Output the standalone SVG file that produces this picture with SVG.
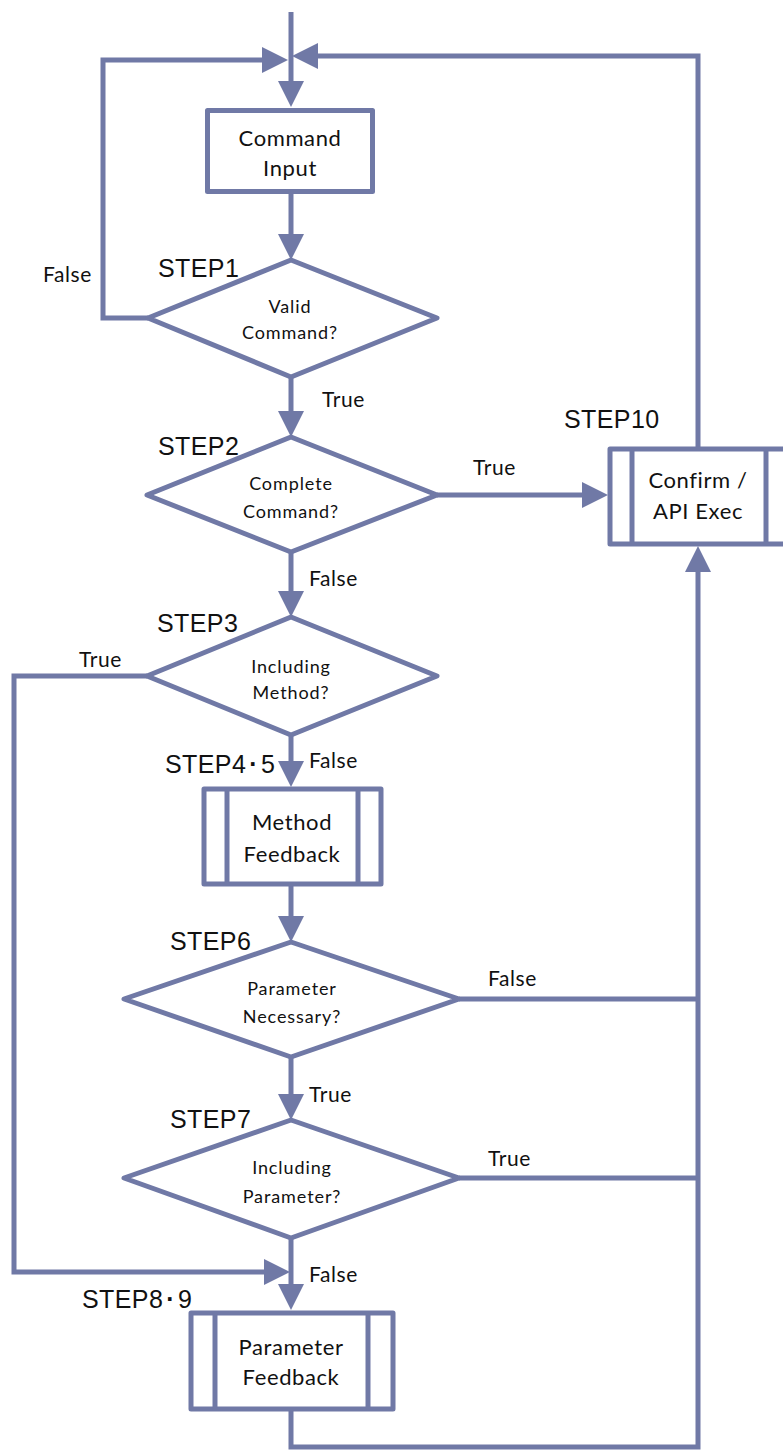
<svg xmlns="http://www.w3.org/2000/svg" width="783" height="1450" viewBox="0 0 783 1450">
  <style>
    .ln { fill: none; stroke: #7079a6; stroke-width: 5; stroke-linejoin: miter; }
    .nd { fill: #ffffff; stroke: #7079a6; stroke-width: 5; stroke-linejoin: round; }
    .bar { stroke: #7079a6; stroke-width: 5; }
    .box { font-family: Lato, "Open Sans", sans-serif; font-size: 22px; fill: #111; text-anchor: middle; letter-spacing: 0.6px; }
    .dia { font-family: Lato, "Open Sans", sans-serif; font-size: 18px; fill: #111; text-anchor: middle; letter-spacing: 0.9px; }
    .lab { font-family: Lato, "Open Sans", sans-serif; font-size: 21px; fill: #111; letter-spacing: 0.6px; }
    .step { font-family: "Liberation Sans", Arial, sans-serif; font-size: 25px; fill: #111; letter-spacing: 0.4px; }
    .dot { font-weight: bold; }
  </style>
  <defs>
    <marker id="arrow" viewBox="0 0 26 26" refX="16" refY="13" markerWidth="26" markerHeight="26" markerUnits="userSpaceOnUse" orient="auto">
      <path d="M0,0 L26,13 L0,26 z" fill="#7079a6"/>
    </marker>
  </defs>
  <rect width="783" height="1450" fill="#ffffff"/>

  <g id="connectors">
    <path class="ln" d="M291,12 V97" marker-end="url(#arrow)"/>
    <path class="ln" d="M148,318 H103 V60 H278" marker-end="url(#arrow)"/>
    <path class="ln" d="M698,447 V56 H302" marker-end="url(#arrow)"/>
    <path class="ln" d="M291,194 V250" marker-end="url(#arrow)"/>
    <path class="ln" d="M291,377 V427" marker-end="url(#arrow)"/>
    <path class="ln" d="M437,495 H598" marker-end="url(#arrow)"/>
    <path class="ln" d="M291,552 V607" marker-end="url(#arrow)"/>
    <path class="ln" d="M147,676 H14 V1272 H280" marker-end="url(#arrow)"/>
    <path class="ln" d="M291,735 V777" marker-end="url(#arrow)"/>
    <path class="ln" d="M291,886 V932" marker-end="url(#arrow)"/>
    <path class="ln" d="M291,1057 V1110" marker-end="url(#arrow)"/>
    <path class="ln" d="M291,1238 V1300" marker-end="url(#arrow)"/>
    <path class="ln" d="M459,999 H698"/>
    <path class="ln" d="M459,1178 H698"/>
    <path class="ln" d="M291,1411 V1447 H698 V556" marker-end="url(#arrow)"/>
    <text class="lab" x="43" y="282">False</text>
    <text class="lab" x="322" y="407">True</text>
    <text class="lab" x="473" y="475">True</text>
    <text class="lab" x="309" y="586">False</text>
    <text class="lab" x="79" y="667">True</text>
    <text class="lab" x="309" y="768">False</text>
    <text class="lab" x="488" y="986">False</text>
    <text class="lab" x="309" y="1102">True</text>
    <text class="lab" x="488" y="1166">True</text>
    <text class="lab" x="309" y="1282">False</text>
  </g>

  <g id="command-input">
    <rect class="nd" x="207.5" y="110.5" width="165" height="81"/>
    <text class="box" x="290" y="146">Command</text>
    <text class="box" x="290" y="176">Input</text>
  </g>

  <g id="step1">
    <polygon class="nd" points="291,260 437,318 291,377 148,318"/>
    <text class="step" x="158" y="277">STEP1</text>
    <text class="dia" x="290" y="313">Valid</text>
    <text class="dia" x="290" y="339">Command?</text>
  </g>

  <g id="step2">
    <polygon class="nd" points="291,437 437,495 291,552 147,495"/>
    <text class="step" x="158" y="455">STEP2</text>
    <text class="dia" x="291" y="490">Complete</text>
    <text class="dia" x="291" y="518">Command?</text>
  </g>

  <g id="step10">
    <rect class="nd" x="610" y="449" width="185" height="95"/>
    <line class="bar" x1="632" y1="449" x2="632" y2="544"/>
    <line class="bar" x1="766" y1="449" x2="766" y2="544"/>
    <text class="step" x="564" y="428">STEP10</text>
    <text class="box" x="698" y="488">Confirm /</text>
    <text class="box" x="698" y="519">API Exec</text>
  </g>

  <g id="step3">
    <polygon class="nd" points="291,617 437,676 291,735 147,676"/>
    <text class="step" x="157" y="632">STEP3</text>
    <text class="dia" x="291" y="673">Including</text>
    <text class="dia" x="291" y="699">Method?</text>
  </g>

  <g id="step4-5">
    <rect class="nd" x="204" y="789" width="177" height="95"/>
    <line class="bar" x1="227" y1="789" x2="227" y2="884"/>
    <line class="bar" x1="358" y1="789" x2="358" y2="884"/>
    <text class="step" x="165" y="773">STEP4<tspan class="dot" dx="3">·</tspan><tspan dx="3">5</tspan></text>
    <text class="box" x="292" y="830">Method</text>
    <text class="box" x="292" y="862">Feedback</text>
  </g>

  <g id="step6">
    <polygon class="nd" points="291,942 459,999 291,1057 124,999"/>
    <text class="step" x="170" y="950">STEP6</text>
    <text class="dia" x="292" y="995">Parameter</text>
    <text class="dia" x="292" y="1023">Necessary?</text>
  </g>

  <g id="step7">
    <polygon class="nd" points="291,1120 459,1178 291,1238 124,1178"/>
    <text class="step" x="170" y="1128">STEP7</text>
    <text class="dia" x="292" y="1174">Including</text>
    <text class="dia" x="292" y="1203">Parameter?</text>
  </g>

  <g id="step8-9">
    <rect class="nd" x="191" y="1313" width="202" height="96"/>
    <line class="bar" x1="215" y1="1313" x2="215" y2="1409"/>
    <line class="bar" x1="368" y1="1313" x2="368" y2="1409"/>
    <text class="step" x="82" y="1308">STEP8<tspan class="dot" dx="3">·</tspan><tspan dx="3">9</tspan></text>
    <text class="box" x="291" y="1355">Parameter</text>
    <text class="box" x="291" y="1385">Feedback</text>
  </g>
</svg>
